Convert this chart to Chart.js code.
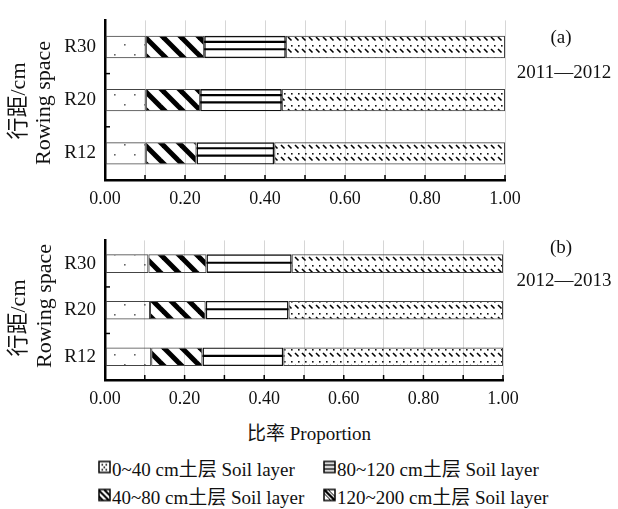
<!DOCTYPE html>
<html>
<head>
<meta charset="utf-8">
<script src="https://cdn.jsdelivr.net/npm/chart.js@4.4.0/dist/chart.umd.min.js"></script>
<style>
  body { margin: 0; background: #fff; }
  #wrap { position: relative; width: 618px; height: 509px; overflow: hidden;
          font-family: 'Liberation Serif', 'Noto Sans CJK SC', serif; color: #111; }
  canvas.chart { position: absolute; left: 0; }
  .txt { position: absolute; white-space: nowrap; transform: translate(-50%, -50%); }
  .ytitle { position: absolute; white-space: nowrap; transform: translate(-50%, -50%) rotate(-90deg); font-size: 22px; }
  .leg { position: absolute; white-space: nowrap; font-size: 19px; display: flex; align-items: center; transform: translateY(-50%); }
  .leg canvas { margin-right: 1px; }
</style>
</head>
<body>
<div id="wrap">
  <canvas id="c1" class="chart" width="618" height="215" style="top:0"></canvas>
  <canvas id="c2" class="chart" width="618" height="195" style="top:220px"></canvas>

  <div class="txt" style="left:561px;top:37px;font-size:19px">(a)</div>
  <div class="txt" style="left:564px;top:72px;font-size:19px">2011—2012</div>
  <div class="txt" style="left:561px;top:247px;font-size:19px">(b)</div>
  <div class="txt" style="left:564px;top:280px;font-size:19px">2012—2013</div>
  <div class="txt" style="left:309px;top:431px;font-size:19px">比率 Proportion</div>

  <div class="ytitle" style="left:15px;top:101px">行距/cm</div>
  <div class="ytitle" style="left:43px;top:103px">Rowing space</div>
  <div class="ytitle" style="left:15px;top:318px">行距/cm</div>
  <div class="ytitle" style="left:44px;top:306px">Rowing space</div>

  <div id="legend"></div>
</div>

<script>
// row spacing categories, top to bottom
const rowLabels = ['R30', 'R20', 'R12'];
const layerNames = ['0~40 cm土层 Soil layer', '40~80 cm土层 Soil layer',
                    '80~120 cm土层 Soil layer', '120~200 cm土层 Soil layer'];

// 2011-2012 proportions per soil layer (R30, R20, R12)
const a_0_40    = [0.102, 0.102, 0.102];
const a_40_80   = [0.146, 0.136, 0.127];
const a_80_120  = [0.204, 0.204, 0.194];
const a_120_200 = [0.548, 0.558, 0.577];

// 2012-2013
const b_0_40    = [0.109, 0.113, 0.116];
const b_40_80   = [0.146, 0.140, 0.129];
const b_80_120  = [0.214, 0.208, 0.203];
const b_120_200 = [0.531, 0.539, 0.552];

const FONT = "'Liberation Serif', 'Noto Sans CJK SC', serif";

// little helper to make a repeating canvas pattern
const makeTile = (w, h, draw) => {
    const c = document.createElement('canvas');
    c.width = w; c.height = h;
    draw(c.getContext('2d'));
    return c;
};
const toPattern = (tile) => document.createElement('canvas').getContext('2d').createPattern(tile, 'repeat');

const dotTile = makeTile(20, 20, g => {
    g.fillStyle = '#666';
    g.fillRect(4, 4, 1.6, 1.6);
    g.fillRect(14, 14, 1.6, 1.6);
});
const stripeTile = makeTile(18, 18, g => {
    g.strokeStyle = '#000';
    g.lineWidth = 5;
    for (let x0 = -18; x0 <= 18; x0 += 18) {
        g.beginPath(); g.moveTo(x0 - 2, -2); g.lineTo(x0 + 20, 20); g.stroke();
    }
});
const dashTile = makeTile(7, 12, g => {
    g.strokeStyle = '#000';
    g.lineWidth = 1.6;
    g.beginPath(); g.moveTo(1, 1); g.lineTo(4.5, 4.5); g.stroke();
    g.fillStyle = '#111';
    g.fillRect(4, 9, 1.6, 1.6);
});

const fills = [toPattern(dotTile), toPattern(stripeTile), 'rgba(0,0,0,0)', toPattern(dashTile)];

// inward tick marks + the horizontal lines inside the 80~120 segment
const extrasPlugin = {
    id: 'extras',
    afterDatasetsDraw(chart, args, opts) {
        const ctx = chart.ctx;
        const meta = chart.getDatasetMeta(2);
        ctx.save();
        ctx.strokeStyle = '#000';
        ctx.lineWidth = 2.2;
        meta.data.forEach(el => {
            const p = el.getProps(['x', 'y', 'base', 'height'], true);
            const top = p.y - p.height / 2;
            opts.lines.forEach(f => {
                const yy = top + p.height * f;
                ctx.beginPath(); ctx.moveTo(p.base, yy); ctx.lineTo(p.x, yy); ctx.stroke();
            });
        });
        ctx.restore();
    },
    afterDraw(chart) {
        const ctx = chart.ctx;
        const xs = chart.scales.x, ys = chart.scales.y;
        const area = chart.chartArea;
        ctx.save();
        ctx.strokeStyle = '#000';
        ctx.lineWidth = 1.5;
        xs.ticks.forEach((t, i) => {
            const x = xs.getPixelForTick(i);
            ctx.beginPath(); ctx.moveTo(x, area.bottom); ctx.lineTo(x, area.bottom - 5); ctx.stroke();
        });
        for (let i = 0; i < rowLabels.length - 1; i++) {
            const y = (ys.getPixelForValue(i) + ys.getPixelForValue(i + 1)) / 2;
            ctx.beginPath(); ctx.moveTo(area.left, y); ctx.lineTo(area.left + 5, y); ctx.stroke();
        }
        ctx.restore();
    }
};

const makeChart = (id, series, opt) => {
    const datasets = series.map((vals, i) => ({
        label: layerNames[i],
        data: vals,
        backgroundColor: fills[i],
        borderColor: i === 2 ? '#111' : '#444',
        borderWidth: i === 2 ? 1.4 : 1,
        borderSkipped: false,
        barPercentage: opt.barPct,
        categoryPercentage: 1
    }));
    return new Chart(document.getElementById(id), {
        type: 'bar',
        data: { labels: rowLabels, datasets: datasets },
        plugins: [extrasPlugin],
        options: {
            indexAxis: 'y',
            responsive: false,
            animation: false,
            layout: { padding: { top: opt.top, right: opt.right, left: 0, bottom: 0 } },
            plugins: {
                legend: { display: false },
                tooltip: { enabled: false },
                extras: { lines: opt.lines }
            },
            scales: {
                x: {
                    stacked: true, min: 0, max: 1,
                    ticks: {
                        stepSize: 0.1, autoSkip: false, maxRotation: 0, color: '#111', padding: 8,
                        font: { family: FONT, size: 18 },
                        callback: v => (Math.round(v * 10) % 2 === 0 ? v.toFixed(2) : '')
                    },
                    grid: { color: '#d6d6d6', lineWidth: 1, drawTicks: false },
                    border: { color: '#000', width: 2.5 },
                    afterFit: s => { s.height = opt.xh; }
                },
                y: {
                    stacked: true,
                    ticks: { color: '#111', padding: 9, font: { family: FONT, size: 19 } },
                    grid: { display: true, drawOnChartArea: false, drawTicks: false },
                    border: { color: '#000', width: 2.5 },
                    afterFit: s => { s.width = 105; }
                }
            }
        }
    });
};

makeChart('c1', [a_0_40, a_40_80, a_80_120, a_120_200],
    { top: 9, right: 113, xh: 35, barPct: 0.42, lines: [0.27, 0.6] });
makeChart('c2', [b_0_40, b_40_80, b_80_120, b_120_200],
    { top: 10, right: 115, xh: 35, barPct: 0.4, lines: [0.45] });

// legend swatches drawn by hand
const swatch = (kind) => {
    const c = document.createElement('canvas');
    c.width = 13; c.height = 13;
    const g = c.getContext('2d');
    g.strokeStyle = '#000'; g.fillStyle = '#000'; g.lineWidth = 1.5;
    g.strokeRect(1, 1, 11, 11);
    if (kind === 0) {
        [[3.5, 3.5], [7.5, 3.5], [5.5, 6], [3.5, 8.5], [7.5, 8.5]].forEach(p => g.fillRect(p[0], p[1], 1.6, 1.6));
    } else if (kind === 1) {
        g.save(); g.beginPath(); g.rect(1, 1, 11, 11); g.clip();
        g.lineWidth = 2;
        [-6, 0, 6].forEach(o => { g.beginPath(); g.moveTo(o, 1); g.lineTo(o + 12, 13); g.stroke(); });
        g.restore();
    } else if (kind === 2) {
        g.lineWidth = 1.6;
        [4.5, 8.5].forEach(y => { g.beginPath(); g.moveTo(1, y); g.lineTo(12, y); g.stroke(); });
    } else {
        g.save(); g.beginPath(); g.rect(1, 1, 11, 11); g.clip();
        g.lineWidth = 2.4;
        g.beginPath(); g.moveTo(1, 1); g.lineTo(12, 12); g.stroke();
        g.lineWidth = 1;
        [-4, 4].forEach(o => { g.beginPath(); g.moveTo(1 + o, 1); g.lineTo(12 + o, 12); g.stroke(); });
        g.restore();
    }
    return c;
};

const legendPos = [[98, 467], [98, 495], [323, 467], [323, 495]];
const legend = document.getElementById('legend');
layerNames.forEach((name, i) => {
    const d = document.createElement('div');
    d.className = 'leg';
    d.style.left = legendPos[i][0] + 'px';
    d.style.top = legendPos[i][1] + 'px';
    d.appendChild(swatch(i));
    const s = document.createElement('span');
    s.textContent = name;
    d.appendChild(s);
    legend.appendChild(d);
});
</script>
</body>
</html>
